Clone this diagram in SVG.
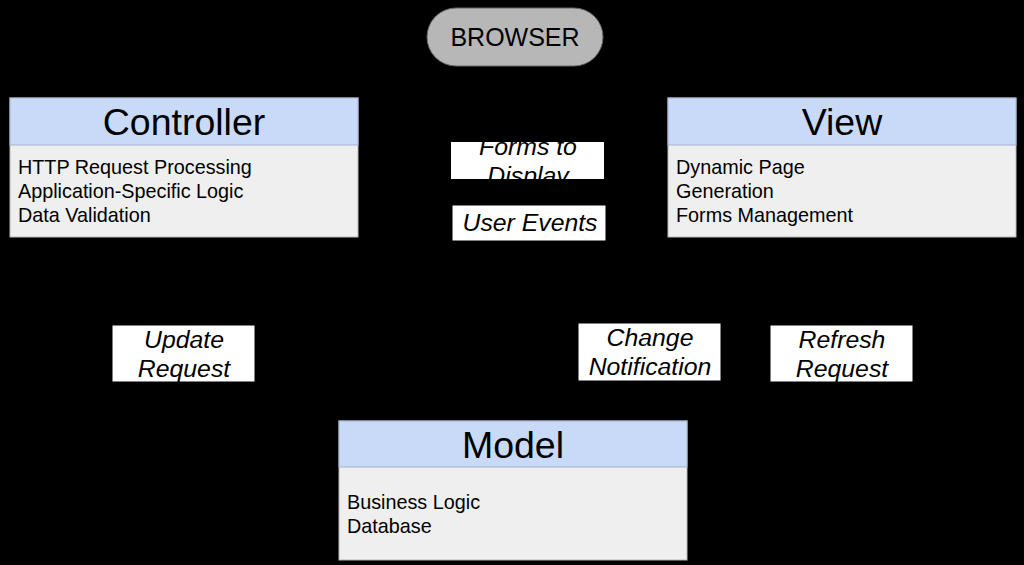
<svg xmlns="http://www.w3.org/2000/svg" width="1024" height="565" viewBox="0 0 1024 565">
<defs>
<style>
.hdr{fill:#c9daf8;stroke:#a4b4cf;stroke-width:1}
.body{fill:#efefef;stroke:#b8b8b8;stroke-width:1}
.title{font-family:"Liberation Sans",Arial,sans-serif;font-size:37.5px;fill:#000;text-anchor:middle}
.item{font-family:"Liberation Sans",Arial,sans-serif;font-size:19.8px;fill:#000}
.lbox{fill:#fff;stroke:#000;stroke-width:1}
.ltext{font-family:"Liberation Sans",Arial,sans-serif;font-size:24.8px;font-style:italic;fill:#000;text-anchor:middle}
.conn{fill:none;stroke:#000;stroke-width:2}
</style>
<marker id="arr" markerWidth="10" markerHeight="10" refX="9" refY="5" orient="auto" markerUnits="userSpaceOnUse">
<path d="M0,0 L10,5 L0,10 z" fill="#000"/>
</marker>
<clipPath id="clipForms"><rect x="451" y="142" width="154" height="37"/></clipPath>
</defs>
<rect width="1024" height="565" fill="#000"/>
<g id="connectors">
<path class="conn" d="M427,37 L195,37 L195,97" marker-end="url(#arr)"/>
<path class="conn" d="M842,97 L842,37 L604,37"/>
<path class="conn" d="M184,238 L184,490 L338,490" marker-end="url(#arr)"/>
<path class="conn" d="M688,440 L650,440 L650,238" marker-end="url(#arr)"/>
<path class="conn" d="M842,238 L842,500 L688,500" marker-end="url(#arr)"/>
</g>
<g id="browser">
<rect x="427" y="8" width="176" height="58" rx="29" ry="29" fill="#b7b7b7" stroke="#666" stroke-width="1"/>
<text x="515" y="46" font-family="'Liberation Sans',Arial,sans-serif" font-size="25" text-anchor="middle" fill="#000">BROWSER</text>
</g>
<g id="controller">
<rect class="body" x="10" y="98" width="348" height="139"/>
<rect class="hdr" x="10" y="98" width="348" height="47"/>
<text class="title" x="184" y="135">Controller</text>
<text class="item" x="18" y="174">HTTP Request Processing</text>
<text class="item" x="18" y="198">Application-Specific Logic</text>
<text class="item" x="18" y="222">Data Validation</text>
</g>
<g id="view">
<rect class="body" x="668" y="98" width="348" height="139"/>
<rect class="hdr" x="668" y="98" width="348" height="47"/>
<text class="title" x="842" y="135">View</text>
<text class="item" x="676" y="174">Dynamic Page</text>
<text class="item" x="676" y="198">Generation</text>
<text class="item" x="676" y="222">Forms Management</text>
</g>
<g id="model">
<rect class="body" x="339" y="421" width="348" height="139"/>
<rect class="hdr" x="339" y="421" width="348" height="46"/>
<text class="title" x="513" y="458">Model</text>
<text class="item" x="347" y="509">Business Logic</text>
<text class="item" x="347" y="533">Database</text>
</g>
<g id="label-forms">
<rect x="451" y="142" width="153" height="37" fill="#fff"/>
<g clip-path="url(#clipForms)">
<text class="ltext" x="528" y="155">Forms to</text>
<text class="ltext" x="528" y="184">Display</text>
</g>
</g>
<g id="label-events">
<rect class="lbox" x="452" y="205" width="154" height="36"/>
<text class="ltext" x="530" y="231">User Events</text>
</g>
<g id="label-update">
<rect class="lbox" x="112" y="325" width="143" height="57"/>
<text class="ltext" x="184" y="348">Update</text>
<text class="ltext" x="184" y="377">Request</text>
</g>
<g id="label-change">
<rect class="lbox" x="578" y="323" width="143" height="58"/>
<text class="ltext" x="650" y="346">Change</text>
<text class="ltext" x="650" y="375">Notification</text>
</g>
<g id="label-refresh">
<rect class="lbox" x="770" y="325" width="143" height="57"/>
<text class="ltext" x="842" y="348">Refresh</text>
<text class="ltext" x="842" y="377">Request</text>
</g>
</svg>
